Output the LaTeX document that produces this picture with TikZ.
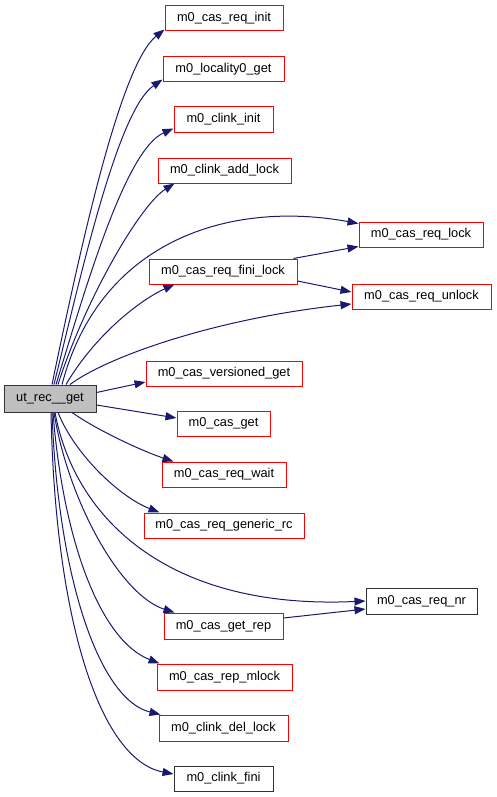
\documentclass[tikz,border=0pt]{standalone}
\usepackage{fontspec}
\setmainfont{Liberation Sans}
\usetikzlibrary{arrows.meta}
\definecolor{edgec}{HTML}{191970}
\definecolor{boxred}{HTML}{FF0000}
\definecolor{rootfill}{HTML}{BFBFBF}
\begin{document}
\begin{tikzpicture}[x=1pt,y=-1pt,
  fn/.style={draw=boxred, line width=1pt, fill=white, minimum height=25pt, inner sep=0pt, font=\fontsize{12.8}{15}\selectfont},
  fnblack/.style={fn, draw=black!80},
  rootbox/.style={fn, draw=black!80, fill=rootfill, minimum height=27pt},
  edge/.style={draw=edgec, line width=1pt, -{Triangle[length=11pt,width=8pt]}}
]
\useasboundingbox (0,0) rectangle (496,797);

\node[rootbox, minimum width=92pt] (root) at (50,398.5) {ut\_rec\_\_get};
\node[fn, minimum width=118pt] (init) at (224,18.5) {m0\_cas\_req\_init};
\node[fn, minimum width=121pt] (loc) at (223.5,69.5) {m0\_locality0\_get};
\node[fn, minimum width=99pt] (clinit) at (223.5,119.5) {m0\_clink\_init};
\node[fn, minimum width=133pt] (addlock) at (224.5,170.5) {m0\_clink\_add\_lock};
\node[fn, minimum width=124pt] (reqlock) at (421,234.5) {m0\_cas\_req\_lock};
\node[fn, minimum width=148pt] (finilock) at (223,271.5) {m0\_cas\_req\_fini\_lock};
\node[fn, minimum width=139pt] (unlock) at (421.5,296.5) {m0\_cas\_req\_unlock};
\node[fn, minimum width=156pt] (vget) at (224,373.5) {m0\_cas\_versioned\_get};
\node[fn, minimum width=93pt] (get) at (223.5,423.5) {m0\_cas\_get};
\node[fn, minimum width=124pt] (wait) at (224,474.5) {m0\_cas\_req\_wait};
\node[fn, minimum width=160pt] (generic) at (224,525.5) {m0\_cas\_req\_generic\_rc};
\node[fnblack, minimum width=111pt, minimum height=26pt] (nr) at (421.5,601) {m0\_cas\_req\_nr};
\node[fn, minimum width=119pt, minimum height=26pt] (getrep) at (223.5,626) {m0\_cas\_get\_rep};
\node[fn, minimum width=135pt, minimum height=26pt] (mlock) at (224.5,677) {m0\_cas\_rep\_mlock};
\node[fn, minimum width=129pt, minimum height=26pt] (dellock) at (223.5,728) {m0\_clink\_del\_lock};
\node[fnblack, minimum width=99pt] (fini) at (223.5,778.5) {m0\_clink\_fini};

% upward edges
\draw[edge] ([xshift=2pt]root.north) .. controls (80,250) and (120,65) .. ([yshift=2pt]init.south west);
\draw[edge] ([xshift=4pt]root.north) .. controls (82,270) and (118,110) .. ([yshift=3pt]loc.south west);
\draw[edge] ([xshift=6pt]root.north) .. controls (85,290) and (125,150) .. ([yshift=4pt]clinit.south west);
\draw[edge] ([xshift=8pt]root.north) .. controls (85,300) and (140,205) .. ([xshift=17pt]addlock.south west);
\draw[edge] ([xshift=12pt]root.north) .. controls (100,240) and (230,200) .. ([yshift=11pt]reqlock.west);
\draw[edge] ([xshift=16pt]root.north) .. controls (95,335) and (140,300) .. ([xshift=26pt]finilock.south west);
\draw[edge] ([xshift=20pt]root.north) .. controls (110,355) and (220,318) .. ([yshift=-7.5pt]unlock.west);

% straight-ish edges
\draw[edge] ([yshift=6pt]root.east) -- ([yshift=-8.5pt]vget.west);
\draw[edge] ([yshift=-6.5pt]root.east) -- ([yshift=5.5pt]get.west);

% downward edges
\draw[edge] ([xshift=22pt]root.south) .. controls (100,432) and (145,452) .. ([xshift=12pt]wait.north west);
\draw[edge] ([xshift=8pt]root.south) .. controls (75,455) and (120,497) .. ([xshift=16pt]generic.north west);
\draw[edge] ([xshift=5pt]root.south) .. controls (75,520) and (170,610) .. (nr.west);
\draw[edge] ([xshift=4pt]root.south) .. controls (68,500) and (120,595) .. ([xshift=11pt]getrep.north west);
\draw[edge] ([xshift=3pt]root.south) .. controls (63,540) and (100,640) .. ([xshift=3pt]mlock.north west);
\draw[edge] ([xshift=2pt]root.south) .. controls (58,580) and (100,700) .. ([xshift=2pt]dellock.north west);
\draw[edge] ([xshift=1pt]root.south) .. controls (55,620) and (100,760) .. ([yshift=4.5pt]fini.west);

% secondary edges
\draw[edge] ([xshift=-4pt]finilock.north east) -- ([yshift=1pt]reqlock.south west);
\draw[edge] ([yshift=-9.5pt]finilock.east) -- ([yshift=4.5pt]unlock.west);
\draw[edge] ([yshift=8pt]getrep.east) -- ([yshift=-8pt]nr.west);
\end{tikzpicture}
\end{document}
